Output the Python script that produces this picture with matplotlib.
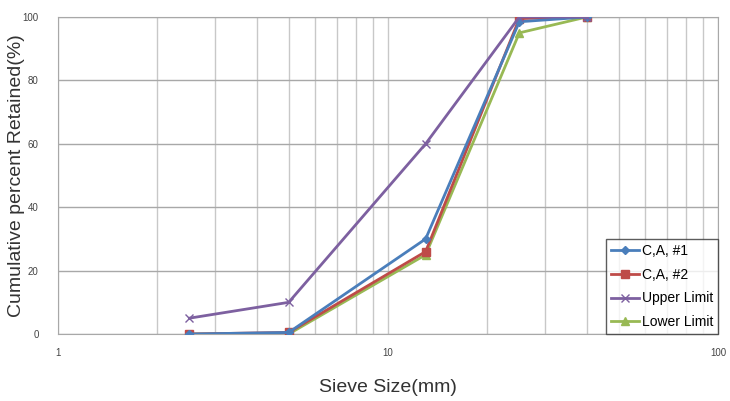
import numpy as np
import matplotlib
matplotlib.use('Agg')
import matplotlib.pyplot as plt
from matplotlib.ticker import FixedLocator, NullFormatter

# ----- Data -----
sieve = [2.5, 5, 13, 25, 40]
ca1 = [0, 0.5, 30, 98.5, 100]
ca2 = [0, 0.5, 26, 99.5, 100]
upper = [5, 10, 60, 100, 100]
lower = [0, 0, 25, 95, 100]
labels = ['C,A, #1', 'C,A, #2', 'Upper Limit', 'Lower Limit']

plt.rcParams['font.family'] = ['Liberation Sans Narrow', 'Liberation Sans', 'DejaVu Sans']

fig = plt.figure(figsize=(7.3, 4.01), dpi=100)
ax = fig.add_axes([0.0795, 0.167, 0.9041, 0.7906])

ax.plot(sieve, ca1, color='#4A7EBB', lw=2, marker='D', ms=4, label=labels[0], zorder=4)
ax.plot(sieve, ca2, color='#BE4B48', lw=2, marker='s', ms=6, label=labels[1], zorder=3)
ax.plot(sieve, upper, color='#7D60A0', lw=2, marker='x', ms=6, mew=1, label=labels[2], zorder=5)
ax.plot(sieve, lower, color='#98B954', lw=2, marker='^', ms=6, label=labels[3], zorder=2)

ax.set_xscale('log')
ax.set_xlim(1, 100)
ax.set_ylim(0, 100)
ax.set_yticks(np.arange(0, 101, 20))
ax.set_xticks([1, 10, 100])
ax.set_xticklabels(['1', '10', '100'])
ax.xaxis.set_minor_locator(FixedLocator([d * m for d in (1, 10) for m in range(2, 10)]))
ax.xaxis.set_minor_formatter(NullFormatter())

ax.grid(True, which='both', axis='x', color='#c8c8c8', lw=1)
ax.grid(True, which='major', axis='y', color='#a8a8a8', lw=1)
ax.set_axisbelow(True)
ax.tick_params(which='both', length=0)
ax.tick_params(axis='x', pad=10, labelsize=7, labelcolor='#444444')
ax.tick_params(axis='y', pad=14, labelsize=7, labelcolor='#444444')
for s in ax.spines.values():
    s.set_color('#a8a8a8')

ax.set_xlabel('Sieve Size(mm)', fontsize=14, color='#333333', labelpad=15)
ax.set_ylabel('Cumulative percent Retained(%)', fontsize=14, color='#333333')
ax.yaxis.set_label_coords(-0.05, 0.5)

leg = ax.legend(loc='lower right', fontsize=10, frameon=True, fancybox=False,
                borderaxespad=0, handlelength=2.0, handletextpad=0.2,
                labelspacing=0.7, borderpad=0.35)
leg.get_frame().set_edgecolor('#333333')
leg.get_frame().set_linewidth(1)

fig.savefig('out.png', dpi=100)
